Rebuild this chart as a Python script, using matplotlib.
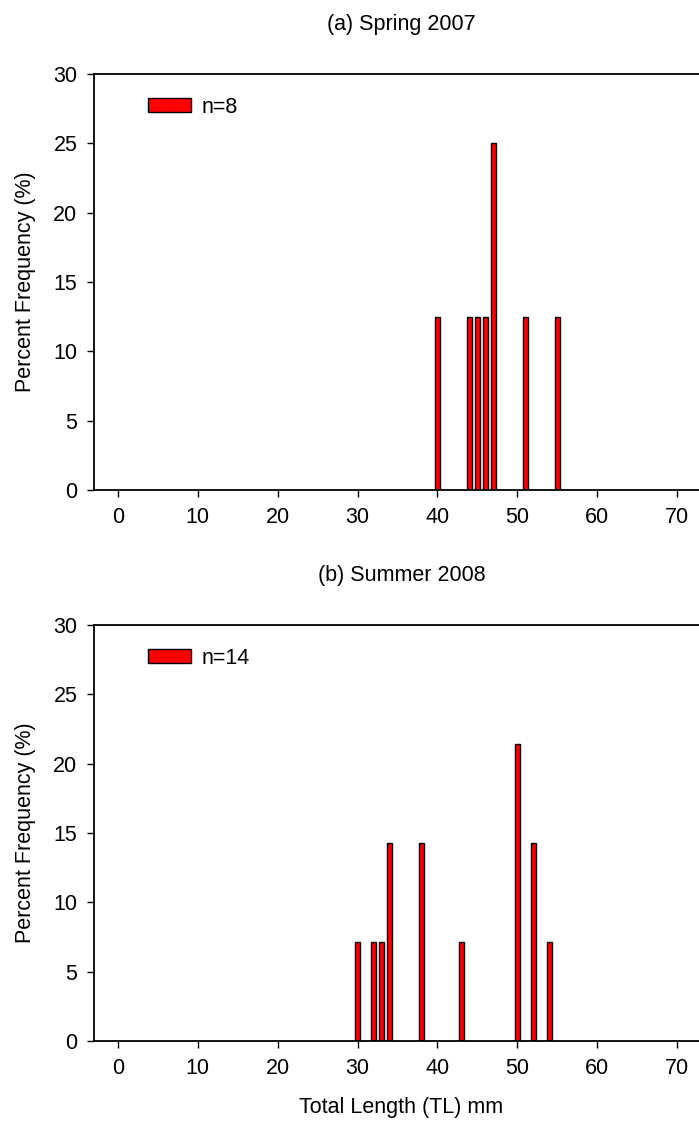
import matplotlib
matplotlib.use("Agg")
import matplotlib.pyplot as plt
from matplotlib.patches import Patch

plt.rcParams['font.family'] = ['Liberation Sans', 'DejaVu Sans']

# Data
spring_lengths = [40, 44, 45, 46, 47, 51, 55]
spring_pct = [12.5, 12.5, 12.5, 12.5, 25.0, 12.5, 12.5]
summer_lengths = [30, 32, 33, 34, 38, 43, 50, 52, 54]
summer_pct = [7.14, 7.14, 7.14, 14.29, 14.29, 7.14, 21.43, 14.29, 7.14]
titles = ["(a) Spring 2007", "(b) Summer 2008"]
legend_labels = ["n=8", "n=14"]
x_ticks = [0, 10, 20, 30, 40, 50, 60, 70]
y_ticks = [0, 5, 10, 15, 20, 25, 30]

W, H = 699, 1122
fig = plt.figure(figsize=(W / 100, H / 100), dpi=100)

left = 94 / W
width = 615 / W
panels = [(74, 490), (625, 1041)]
datasets = [(spring_lengths, spring_pct), (summer_lengths, summer_pct)]
FS = 15.5

for i, ((top, bot), (xs, ys)) in enumerate(zip(panels, datasets)):
    ax = fig.add_axes([left, 1 - bot / H, width, (bot - top) / H])
    ax.bar(xs, ys, width=0.6, color='#ff0000', edgecolor='black', linewidth=1.0)
    ax.set_xlim(-3, 74)
    ax.set_ylim(0, 30)
    ax.set_xticks(x_ticks)
    ax.set_yticks(y_ticks)
    ax.spines['right'].set_visible(False)
    for s in ['left', 'top', 'bottom']:
        ax.spines[s].set_linewidth(1.3)
    ax.tick_params(direction='out', length=5, width=1.0, labelsize=FS, pad=7)
    ax.set_title(titles[i], fontsize=FS, pad=32)
    ax.set_ylabel("Percent Frequency (%)", fontsize=FS)
    ax.yaxis.set_label_coords(-0.094, 0.5)
    handle = Patch(facecolor='#ff0000', edgecolor='black', linewidth=1.0)
    ax.legend([handle], [legend_labels[i]], loc='upper left',
              bbox_to_anchor=(0.088, 0.945), frameon=False, fontsize=FS,
              handlelength=2.0, handleheight=0.63, handletextpad=0.5,
              borderpad=0, borderaxespad=0)
    if i == 1:
        ax.set_xlabel("Total Length (TL) mm", fontsize=FS, labelpad=13)

fig.savefig("out.png", dpi=100)
